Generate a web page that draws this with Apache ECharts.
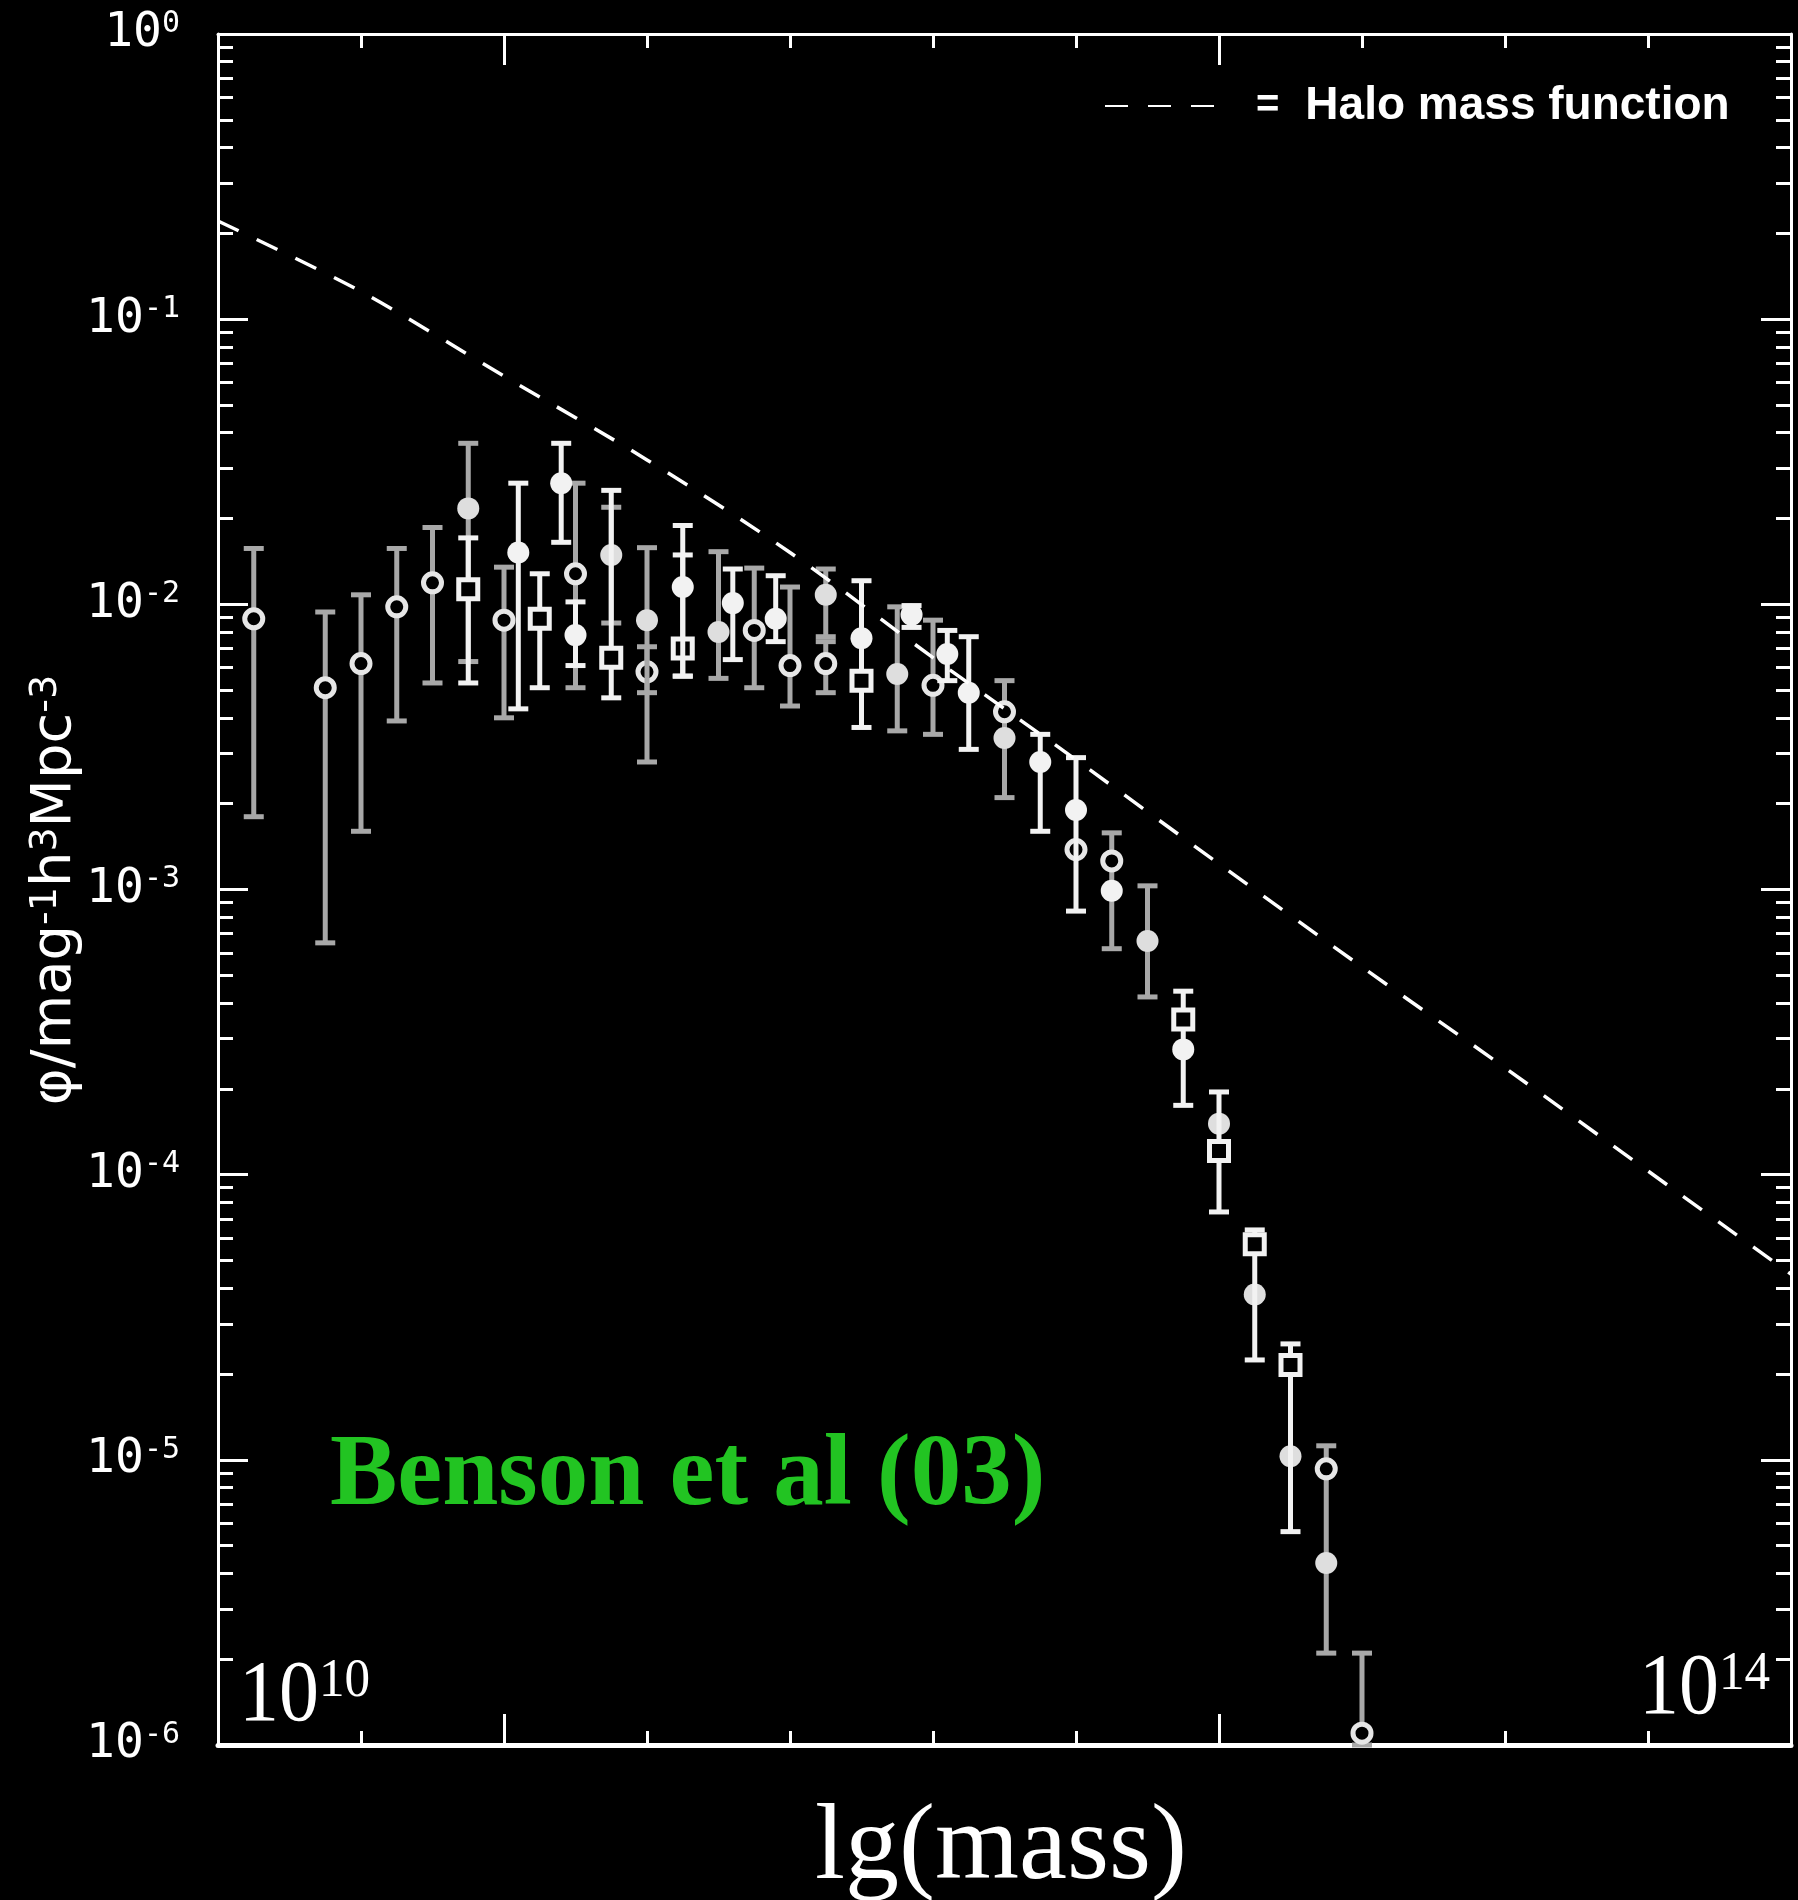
<!DOCTYPE html>
<html>
<head>
<meta charset="utf-8">
<script src="https://cdn.jsdelivr.net/npm/echarts@6/dist/echarts.min.js"></script>
<style>
  html, body { margin: 0; padding: 0; background: #000; }
  #chart { width: 1798px; height: 1900px; }
</style>
</head>
<body>
<div id="chart"></div>
<script>
// Decade exponents shown on the φ axis
const decades = [-6, -5, -4, -3, -2, -1, 0];
// Minor tick multipliers inside each decade
const minorSteps = [2, 3, 4, 5, 6, 7, 8, 9];
// Bin positions carrying the long ticks on the horizontal axis
const longTicks = [2, 7];

// Halo mass function, one sample per bin unit
const haloBins = [0, 1, 2, 3, 4, 5, 6, 7, 8, 9, 10, 11];
const haloPhi = [0.221, 0.125, 0.0631, 0.0321, 0.0152, 0.0065, 0.00285, 0.00123, 0.000535, 0.000237, 0.000103, 4.48e-5];

// Measurements: [bin, phi, lower, upper]; null bounds = no error bar
const openCircles = [
  [0.25, 0.0089, 0.0018, 0.0157],
  [0.75, 0.0051, 0.00065, 0.0094],
  [1.0, 0.0062, 0.0016, 0.0108],
  [1.25, 0.0098, 0.0039, 0.0157],
  [1.5, 0.0119, 0.0053, 0.0186],
  [2.0, 0.0088, 0.0040, 0.0135],
  [2.5, 0.0128, 0.0051, 0.0266],
  [3.0, 0.0058, 0.0049, 0.0071],
  [3.75, 0.0081, 0.0051, 0.0134],
  [4.0, 0.0061, 0.0044, 0.0115],
  [4.25, 0.0062, 0.0049, 0.0074],
  [5.0, 0.0052, 0.0035, 0.0088],
  [5.5, 0.0042, 0.0021, 0.0054],
  [6.0, 0.00138, null, null],
  [6.25, 0.00126, 0.00062, 0.00158],
  [7.75, 9.3e-6, 2.1e-6, 1.12e-5],
  [8.0, 1.1e-6, 1.0e-6, 2.1e-6]
];
const openSquares = [
  [1.75, 0.0113, 0.0053, 0.0171],
  [2.25, 0.0089, 0.0051, 0.0128],
  [2.75, 0.0065, 0.0047, 0.0251],
  [3.25, 0.0070, 0.0056, 0.0149],
  [4.5, 0.0054, 0.0037, 0.0121],
  [6.75, 0.00035, 0.000175, 0.00044],
  [7.0, 0.000121, 7.4e-5, 0.000195],
  [7.25, 5.7e-5, 2.24e-5, 6.4e-5],
  [7.5, 2.15e-5, 5.6e-6, 2.55e-5]
];
const filledGrey = [
  [1.75, 0.0217, 0.0063, 0.0367],
  [2.75, 0.0149, 0.0086, 0.0219],
  [3.0, 0.0088, 0.0028, 0.0158],
  [3.5, 0.0080, 0.0055, 0.0153],
  [4.25, 0.0108, 0.0077, 0.0133],
  [4.75, 0.0057, 0.0036, 0.0098],
  [5.5, 0.0034, null, null],
  [6.5, 0.00066, 0.00042, 0.00103],
  [7.0, 0.000151, null, null],
  [7.25, 3.8e-5, null, null],
  [7.5, 1.03e-5, null, null],
  [7.75, 4.35e-6, null, null]
];
const filledWhite = [
  [2.1, 0.0152, 0.0043, 0.0266],
  [2.4, 0.0266, 0.0165, 0.0367],
  [2.5, 0.0078, 0.0061, 0.0102],
  [3.25, 0.0115, 0.0056, 0.0189],
  [3.6, 0.0101, 0.0064, 0.0133],
  [3.9, 0.0089, 0.0074, 0.0126],
  [4.5, 0.0076, null, null],
  [4.85, 0.0092, 0.0083, 0.0099],
  [5.1, 0.0067, 0.0054, 0.0081],
  [5.25, 0.0049, 0.0031, 0.0077],
  [5.75, 0.0028, 0.0016, 0.0035],
  [6.0, 0.0019, 0.00084, 0.0029],
  [6.25, 0.00099, null, null],
  [6.75, 0.000275, null, null]
];

// The φ axis is drawn in log10 space
const lg = Math.log10;
const minorTickValues = [];
decades.slice(0, -1).forEach(function (d) {
  minorSteps.forEach(function (m) { minorTickValues.push(lg(m) + d); });
});

function toLog(rows) {
  return rows.map(function (r) {
    const lo = r[2] == null ? r[1] : r[2];
    const hi = r[3] == null ? r[1] : r[3];
    return [r[0], lg(r[1]), lg(lo), lg(hi)];
  });
}

const WHITE = '#f2f2f2';
const GREY = '#a8a8a8';

function errorBars(marker, barColor, markerColor) {
  return function (params, api) {
    const x = api.value(0);
    const c = api.coord([x, api.value(1)]);
    const lo = api.coord([x, api.value(2)]);
    const hi = api.coord([x, api.value(3)]);
    const cap = 10;
    const children = [];
    if (Math.abs(lo[1] - hi[1]) > 1) {
      children.push({ type: 'line', shape: { x1: c[0], y1: hi[1], x2: c[0], y2: lo[1] },
        style: { stroke: barColor, lineWidth: 5 } });
      children.push({ type: 'line', shape: { x1: c[0] - cap, y1: hi[1], x2: c[0] + cap, y2: hi[1] },
        style: { stroke: barColor, lineWidth: 5 } });
      children.push({ type: 'line', shape: { x1: c[0] - cap, y1: lo[1], x2: c[0] + cap, y2: lo[1] },
        style: { stroke: barColor, lineWidth: 5 } });
    }
    if (marker === 'circle') {
      children.push({ type: 'circle', shape: { cx: c[0], cy: c[1], r: 9 },
        style: { fill: '#000', stroke: markerColor, lineWidth: 5 } });
    } else if (marker === 'square') {
      children.push({ type: 'rect', shape: { x: c[0] - 9.5, y: c[1] - 9.5, width: 19, height: 19 },
        style: { fill: '#000', stroke: markerColor, lineWidth: 5 } });
    } else {
      children.push({ type: 'circle', shape: { cx: c[0], cy: c[1], r: 11 },
        style: { fill: markerColor } });
    }
    return { type: 'group', children: children };
  };
}

function customSeries(name, rows, marker, barColor, markerColor) {
  return {
    name: name,
    type: 'custom',
    xAxisIndex: 0,
    yAxisIndex: 0,
    data: toLog(rows),
    encode: { x: 0, y: 1 },
    renderItem: errorBars(marker, barColor, markerColor),
    silent: true,
    z: 3
  };
}

const tickStyle = { color: '#fff', width: 3 };

function lineDef(show, width) {
  return { show: show, onZero: false, lineStyle: { color: '#fff', width: width } };
}

function xAxisDef(position, length, custom, lineWidth) {
  const tick = { show: true, inside: true, length: length, lineStyle: tickStyle };
  if (custom) tick.customValues = custom;
  return {
    type: 'value', min: 0, max: 11, interval: 1, position: position,
    axisLine: lineDef(!custom, lineWidth || 3),
    axisTick: tick,
    axisLabel: { show: false },
    splitLine: { show: false }
  };
}

function yAxisDef(position, length, custom, labels) {
  const tick = { show: true, inside: true, length: length, lineStyle: tickStyle };
  if (custom) tick.customValues = custom;
  return {
    type: 'value', min: -6, max: 0, interval: 1, position: position,
    axisLine: lineDef(!custom, 3),
    axisTick: tick,
    splitLine: { show: false },
    axisLabel: labels ? {
      show: true,
      margin: 38,
      align: 'right',
      formatter: function (v) { return '{b|10}{s|' + String(Math.round(v)) + '}'; },
      rich: {
        b: { color: '#fff', fontFamily: 'DejaVu Sans Mono', fontSize: 48, lineHeight: 50 },
        s: { color: '#fff', fontFamily: 'DejaVu Sans Mono', fontSize: 30, lineHeight: 30, verticalAlign: 'top' }
      }
    } : { show: false }
  };
}

const chart = echarts.init(document.getElementById('chart'), null, { renderer: 'canvas' });

chart.setOption({
  backgroundColor: '#000',
  animation: false,
  grid: { left: 218, top: 34, right: 7, bottom: 155, containLabel: false },
  xAxis: [
    xAxisDef('bottom', 14, null, 5),
    xAxisDef('top', 14, null, 3),
    xAxisDef('bottom', 31, longTicks),
    xAxisDef('top', 31, longTicks)
  ],
  yAxis: [
    yAxisDef('left', 30, null, true),
    yAxisDef('left', 15, minorTickValues, false),
    yAxisDef('right', 30, null, false),
    yAxisDef('right', 15, minorTickValues, false)
  ],
  legend: {
    data: ['Halo mass function'],
    left: 1099,
    top: 78,
    selectedMode: false,
    itemWidth: 110,
    itemHeight: 16,
    itemStyle: { opacity: 0 },
    formatter: function () { return '{eq|=}{t|Halo mass function}'; },
    textStyle: {
      color: '#fff',
      rich: {
        eq: { color: '#fff', fontFamily: 'Liberation Sans', fontWeight: 'bold', fontSize: 40, padding: [0, 26, 0, 36] },
        t: { color: '#fff', fontFamily: 'Liberation Sans', fontWeight: 'bold', fontSize: 46 }
      }
    }
  },
  series: [
    {
      name: 'Halo mass function',
      type: 'line',
      data: haloBins.map(function (b, i) { return [b, lg(haloPhi[i])]; }),
      symbol: 'none',
      smooth: 0.3,
      itemStyle: { color: '#fff' },
      lineStyle: { color: '#fff', width: 3.5, type: [23, 20] },
      silent: true,
      z: 4
    },
    customSeries('grey circles', openCircles, 'circle', GREY, '#e6e6e6'),
    customSeries('grey dots', filledGrey, 'dot', GREY, '#dedede'),
    customSeries('white squares', openSquares, 'square', WHITE, WHITE),
    customSeries('white dots', filledWhite, 'dot', WHITE, WHITE)
  ],
  graphic: [
    {
      type: 'text', x: 55, y: 890, rotation: Math.PI / 2,
      style: {
        text: '{t|φ/mag}{s|-1}{t|h}{s|3}{t|Mpc}{s|-3}',
        align: 'center', verticalAlign: 'middle', fill: '#fff',
        rich: {
          t: { fill: '#fff', fontFamily: 'DejaVu Sans', fontSize: 56, lineHeight: 56 },
          s: { fill: '#fff', fontFamily: 'DejaVu Sans', fontSize: 38, lineHeight: 34, verticalAlign: 'top' }
        }
      }
    },
    {
      type: 'text', x: 330, y: 1478,
      style: {
        text: 'Benson et al (03)', fill: '#22c422',
        fontFamily: 'Liberation Serif', fontWeight: 'bold', fontSize: 101,
        align: 'left', verticalAlign: 'middle'
      }
    },
    {
      type: 'text', x: 239, y: 1697, scaleX: 0.93,
      style: {
        text: '{b|10}{s|10}', align: 'left', verticalAlign: 'middle',
        rich: {
          b: { fill: '#fff', fontFamily: 'Liberation Serif', fontSize: 86, lineHeight: 86 },
          s: { fill: '#fff', fontFamily: 'Liberation Serif', fontSize: 55, lineHeight: 55, verticalAlign: 'top' }
        }
      }
    },
    {
      type: 'text', x: 1639, y: 1690, scaleX: 0.93,
      style: {
        text: '{b|10}{s|14}', align: 'left', verticalAlign: 'middle',
        rich: {
          b: { fill: '#fff', fontFamily: 'Liberation Serif', fontSize: 86, lineHeight: 86 },
          s: { fill: '#fff', fontFamily: 'Liberation Serif', fontSize: 55, lineHeight: 55, verticalAlign: 'top' }
        }
      }
    },
    {
      type: 'text', x: 1001, y: 1850,
      style: {
        text: 'lg(mass)', fill: '#fff',
        fontFamily: 'Liberation Serif', fontSize: 108,
        align: 'center', verticalAlign: 'middle'
      }
    }
  ]
});
</script>
</body>
</html>
